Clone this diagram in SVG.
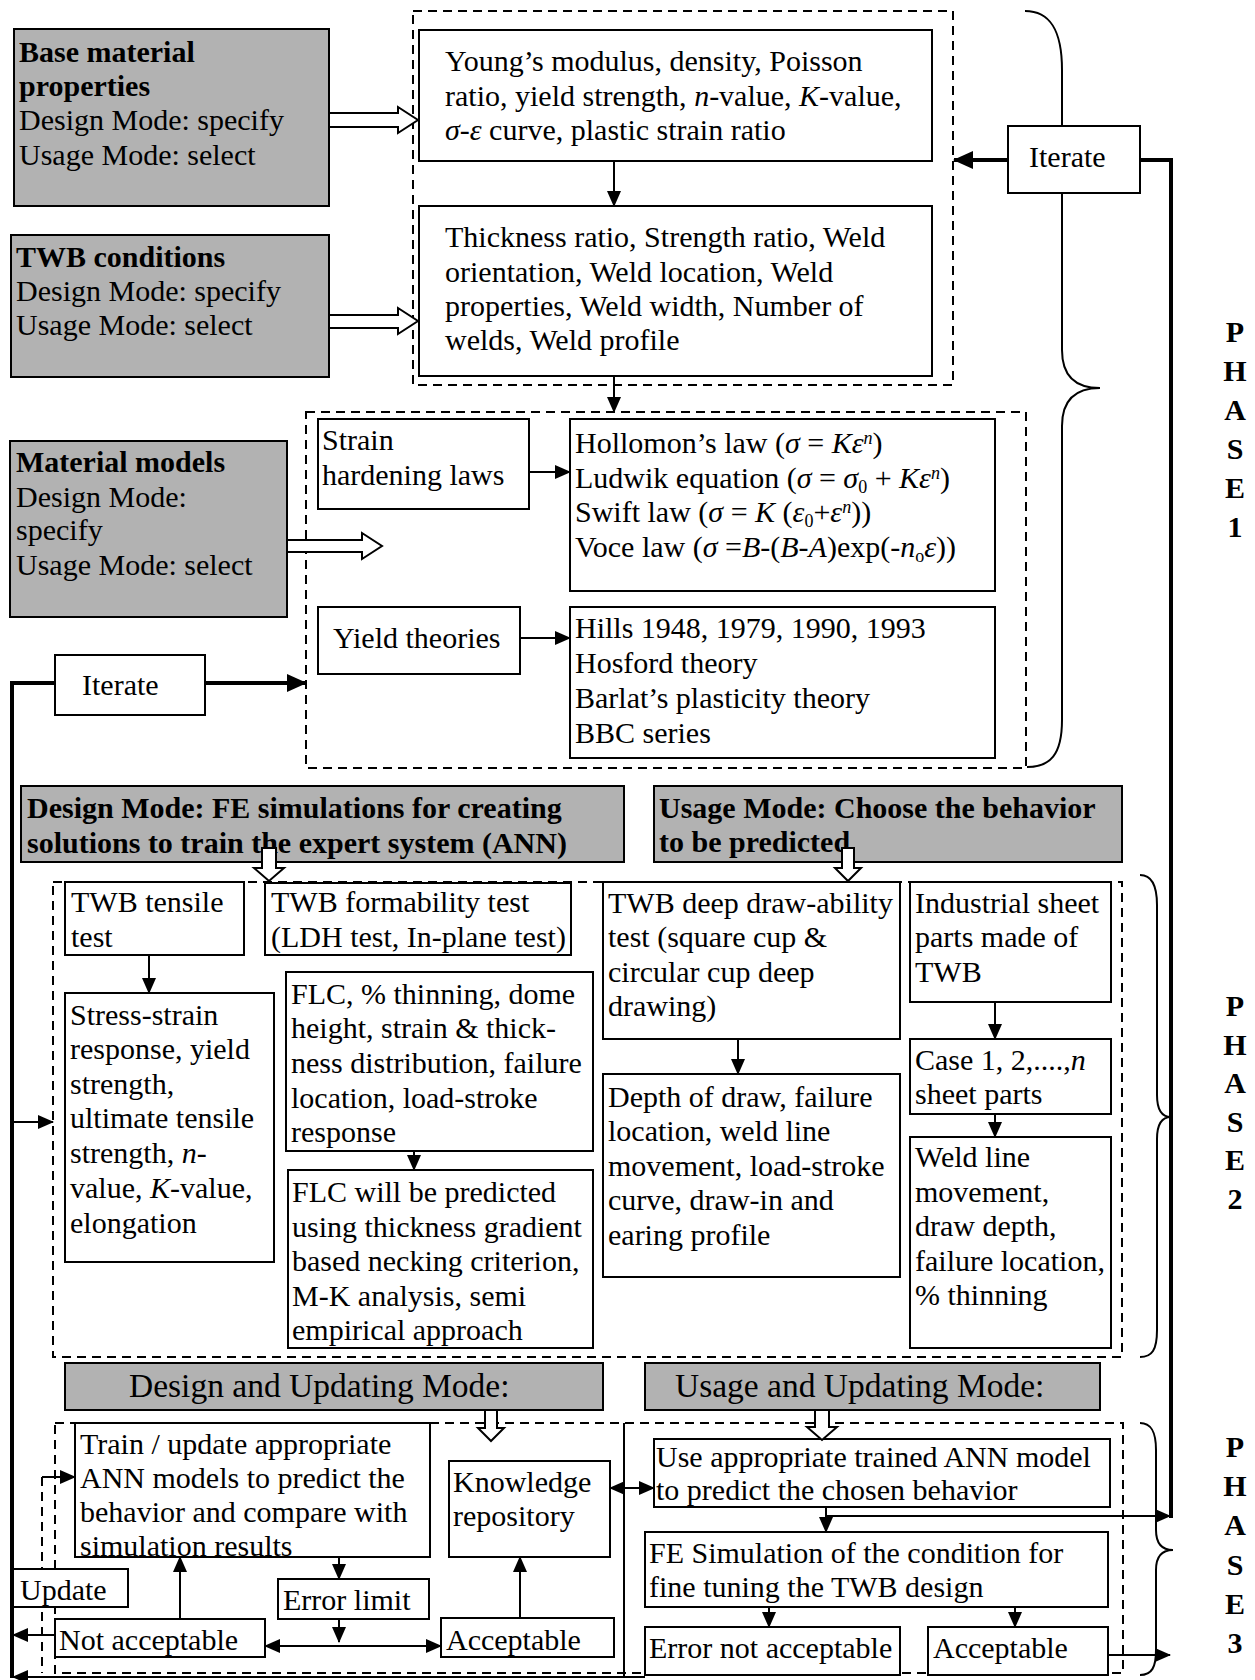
<svg xmlns="http://www.w3.org/2000/svg" width="1255" height="1680" viewBox="0 0 1255 1680">
<style>
.box{fill:#fff;stroke:#000;stroke-width:2}
.gray{fill:#b2b2b2;stroke:#000;stroke-width:2}
.dash{fill:none;stroke:#000;stroke-width:2;stroke-dasharray:9 6}
.ln{fill:none;stroke:#000;stroke-width:2}
.thk{fill:none;stroke:#000;stroke-width:4}
.hol{fill:#fff;stroke:#000;stroke-width:2;stroke-linejoin:miter}
.br{fill:none;stroke:#000;stroke-width:2}
text{font-family:"Liberation Serif","Times New Roman",serif;font-size:30px;fill:#000}
.b{font-weight:bold}
.i{font-style:italic}
.m{font-size:33.5px}
.s{font-size:18px}
.ph{font-weight:bold;text-anchor:middle}
</style>
<defs>
<marker id="ah" markerUnits="userSpaceOnUse" markerWidth="16" markerHeight="14" refX="15" refY="7" orient="auto-start-reverse"><path d="M0,0 L16,7 L0,14 z" fill="#000"/></marker>
<marker id="ahb" markerUnits="userSpaceOnUse" markerWidth="20" markerHeight="18" refX="19" refY="9" orient="auto-start-reverse"><path d="M0,0 L20,9 L0,18 z" fill="#000"/></marker>
</defs>

<g id="groups">
<rect class="dash" x="413" y="11" width="540" height="374"/>
<rect class="dash" x="306" y="412" width="720" height="356"/>
<rect class="dash" x="53" y="882" width="1069" height="475"/>
<rect class="dash" x="55" y="1423" width="1068" height="250"/>
</g>

<g id="braces">
<path class="br" d="M1025,11 C1050,11 1062,30 1062,70 L1062,350 C1062,375 1075,388 1100,388 C1075,388 1062,401 1062,426 L1062,720 C1062,755 1050,767 1027,767"/>
<path class="br" d="M1140,875 C1152,875 1157,885 1157,905 L1157,1095 C1157,1110 1162,1117 1171,1117 C1162,1117 1157,1124 1157,1139 L1157,1330 C1157,1350 1152,1357 1140,1357"/>
<path class="br" d="M1140,1423 C1152,1423 1156,1433 1156,1450 L1156,1530 C1156,1543 1162,1550 1173,1550 C1162,1550 1156,1557 1156,1570 L1156,1650 C1156,1667 1152,1675 1140,1675"/>
</g>

<g id="connectors">
<line class="ln" x1="614" y1="161" x2="614" y2="206" marker-end="url(#ah)"/>
<line class="ln" x1="614" y1="376" x2="614" y2="412" marker-end="url(#ah)"/>
<line class="ln" x1="529" y1="472" x2="570" y2="472" marker-end="url(#ah)"/>
<line class="ln" x1="520" y1="638" x2="570" y2="638" marker-end="url(#ah)"/>
<line class="thk" x1="1008" y1="160" x2="954" y2="160" marker-end="url(#ahb)"/>
<polyline class="thk" points="1140,160 1171,160 1171,1518"/>
<line class="ln" x1="826" y1="1507" x2="826" y2="1532" marker-end="url(#ah)"/>
<line class="ln" x1="826" y1="1516" x2="1170" y2="1516" marker-end="url(#ah)"/>
<line class="thk" x1="205" y1="683" x2="306" y2="683" marker-end="url(#ahb)"/>
<polyline class="thk" points="55,683 12,683 12,1678"/>
<line class="ln" x1="12" y1="1122" x2="53" y2="1122" marker-end="url(#ah)"/>
<line class="ln" x1="149" y1="955" x2="149" y2="993" marker-end="url(#ah)"/>
<line class="ln" x1="414" y1="1151" x2="414" y2="1170" marker-end="url(#ah)"/>
<line class="ln" x1="738" y1="1039" x2="738" y2="1074" marker-end="url(#ah)"/>
<line class="ln" x1="995" y1="1002" x2="995" y2="1039" marker-end="url(#ah)"/>
<line class="ln" x1="995" y1="1114" x2="995" y2="1137" marker-end="url(#ah)"/>
<line class="ln" x1="339" y1="1557" x2="339" y2="1579" marker-end="url(#ah)"/>
<line class="ln" x1="339" y1="1619" x2="339" y2="1642" marker-end="url(#ah)"/>
<line class="ln" x1="265" y1="1646" x2="441" y2="1646" marker-start="url(#ah)" marker-end="url(#ah)"/>
<line class="ln" x1="180" y1="1619" x2="180" y2="1557" marker-end="url(#ah)"/>
<line class="ln" x1="520" y1="1618" x2="520" y2="1557" marker-end="url(#ah)"/>
<line class="ln" x1="624" y1="1423" x2="624" y2="1677"/>
<line class="ln" x1="610" y1="1488" x2="654" y2="1488" marker-start="url(#ah)" marker-end="url(#ah)"/>
<line class="dash" x1="42" y1="1477" x2="42" y2="1673"/>
<line class="ln" x1="42" y1="1477" x2="75" y2="1477" marker-end="url(#ah)"/>
<line class="ln" x1="55" y1="1635" x2="13" y2="1635" marker-end="url(#ah)"/>
<line class="ln" x1="769" y1="1607" x2="769" y2="1627" marker-end="url(#ah)"/>
<line class="ln" x1="1015" y1="1607" x2="1015" y2="1627" marker-end="url(#ah)"/>
<line class="ln" x1="1108" y1="1655" x2="1170" y2="1655" marker-end="url(#ah)"/>
<line class="ln" x1="645" y1="1677" x2="13" y2="1677" marker-end="url(#ah)"/>
</g>

<g id="base-material">
<rect class="gray" x="14" y="29" width="315" height="177"/>
<text x="19" y="62" class="b">Base material</text>
<text x="19" y="96" class="b">properties</text>
<text x="19" y="130">Design Mode: specify</text>
<text x="19" y="165">Usage Mode: select</text>
</g>
<g id="twb-conditions">
<rect class="gray" x="11" y="235" width="318" height="142"/>
<text x="16" y="267" class="b">TWB conditions</text>
<text x="16" y="301">Design Mode: specify</text>
<text x="16" y="335">Usage Mode: select</text>
</g>
<g id="material-models">
<rect class="gray" x="10" y="441" width="277" height="176"/>
<text x="16" y="472" class="b">Material models</text>
<text x="16" y="507">Design Mode:</text>
<text x="16" y="540">specify</text>
<text x="16" y="575">Usage Mode: select</text>
</g>
<g id="youngs">
<rect class="box" x="419" y="30" width="513" height="131"/>
<text x="445" y="71">Young’s modulus, density, Poisson</text>
<text x="445" y="106">ratio, yield strength, <tspan class="i">n</tspan>-value, <tspan class="i">K</tspan>-value,</text>
<text x="445" y="140"><tspan class="i">σ-ε</tspan> curve, plastic strain ratio</text>
</g>
<g id="thickness">
<rect class="box" x="419" y="206" width="513" height="170"/>
<text x="445" y="247">Thickness ratio, Strength ratio, Weld</text>
<text x="445" y="282">orientation, Weld location, Weld</text>
<text x="445" y="316">properties, Weld width, Number of</text>
<text x="445" y="350">welds, Weld profile</text>
</g>
<g id="strain-hardening">
<rect class="box" x="318" y="419" width="211" height="90"/>
<text x="322" y="450">Strain</text>
<text x="322" y="485">hardening laws</text>
</g>
<g id="hollomon">
<rect class="box" x="570" y="419" width="425" height="172"/>
<text x="575" y="453">Hollomon’s law (<tspan class="i">σ</tspan> = <tspan class="i">Kε</tspan><tspan class="i s" dy="-9">n</tspan><tspan dy="9">)</tspan></text>
<text x="575" y="488">Ludwik equation (<tspan class="i">σ</tspan> = <tspan class="i">σ</tspan><tspan class="s" dy="5">0</tspan><tspan dy="-5"> + </tspan><tspan class="i">Kε</tspan><tspan class="i s" dy="-9">n</tspan><tspan dy="9">)</tspan></text>
<text x="575" y="522">Swift law (<tspan class="i">σ</tspan> = <tspan class="i">K</tspan> (<tspan class="i">ε</tspan><tspan class="s" dy="5">0</tspan><tspan dy="-5">+</tspan><tspan class="i">ε</tspan><tspan class="i s" dy="-9">n</tspan><tspan dy="9">))</tspan></text>
<text x="575" y="557">Voce law (<tspan class="i">σ</tspan> =<tspan class="i">B</tspan>-(<tspan class="i">B</tspan>-<tspan class="i">A</tspan>)exp(-<tspan class="i">n</tspan><tspan class="s" dy="5">o</tspan><tspan class="i" dy="-5">ε</tspan>))</text>
</g>
<g id="yield-theories">
<rect class="box" x="318" y="607" width="202" height="67"/>
<text x="333" y="648">Yield theories</text>
</g>
<g id="hills">
<rect class="box" x="570" y="607" width="425" height="151"/>
<text x="575" y="638">Hills 1948, 1979, 1990, 1993</text>
<text x="575" y="673">Hosford theory</text>
<text x="575" y="708">Barlat’s plasticity theory</text>
<text x="575" y="743">BBC series</text>
</g>
<g id="iterate-right">
<rect class="box" x="1008" y="126" width="132" height="67"/>
<text x="1029" y="167">Iterate</text>
</g>
<g id="iterate-left">
<rect class="box" x="55" y="655" width="150" height="60"/>
<text x="82" y="695">Iterate</text>
</g>
<g id="design-mode">
<rect class="gray" x="21" y="786" width="603" height="76"/>
<text x="27" y="818" class="b">Design Mode: FE simulations for creating</text>
<text x="27" y="853" class="b">solutions to train the expert system (ANN)</text>
</g>
<g id="usage-mode">
<rect class="gray" x="654" y="786" width="468" height="76"/>
<text x="659" y="818" class="b">Usage Mode: Choose the behavior</text>
<text x="659" y="852" class="b">to be predicted</text>
</g>
<g id="tensile">
<rect class="box" x="65" y="882" width="179" height="73"/>
<text x="71" y="912">TWB tensile</text>
<text x="71" y="947">test</text>
</g>
<g id="formability">
<rect class="box" x="265" y="883" width="306" height="72"/>
<text x="271" y="912">TWB formability test</text>
<text x="271" y="947">(LDH test, In-plane test)</text>
</g>
<g id="stress-strain">
<rect class="box" x="65" y="993" width="209" height="269"/>
<text x="70" y="1025">Stress-strain</text>
<text x="70" y="1059">response, yield</text>
<text x="70" y="1094">strength,</text>
<text x="70" y="1128">ultimate tensile</text>
<text x="70" y="1163">strength, <tspan class="i">n</tspan>-</text>
<text x="70" y="1198">value, <tspan class="i">K</tspan>-value,</text>
<text x="70" y="1233">elongation</text>
</g>
<g id="flc">
<rect class="box" x="286" y="972" width="307" height="179"/>
<text x="291" y="1004">FLC, % thinning, dome</text>
<text x="291" y="1038">height, strain &amp; thick-</text>
<text x="291" y="1073">ness distribution, failure</text>
<text x="291" y="1108">location, load-stroke</text>
<text x="291" y="1142">response</text>
</g>
<g id="flc-predicted">
<rect class="box" x="288" y="1170" width="305" height="178"/>
<text x="292" y="1202">FLC will be predicted</text>
<text x="292" y="1237">using thickness gradient</text>
<text x="292" y="1271">based necking criterion,</text>
<text x="292" y="1306">M-K analysis, semi</text>
<text x="292" y="1340">empirical approach</text>
</g>
<g id="deep-draw">
<rect class="box" x="603" y="882" width="297" height="157"/>
<text x="608" y="913">TWB deep draw-ability</text>
<text x="608" y="947">test (square cup &amp;</text>
<text x="608" y="982">circular cup deep</text>
<text x="608" y="1016">drawing)</text>
</g>
<g id="depth-of-draw">
<rect class="box" x="603" y="1074" width="297" height="203"/>
<text x="608" y="1107">Depth of draw, failure</text>
<text x="608" y="1141">location, weld line</text>
<text x="608" y="1176">movement, load-stroke</text>
<text x="608" y="1210">curve, draw-in and</text>
<text x="608" y="1245">earing profile</text>
</g>
<g id="industrial">
<rect class="box" x="910" y="882" width="201" height="120"/>
<text x="915" y="913">Industrial sheet</text>
<text x="915" y="947">parts made of</text>
<text x="915" y="982">TWB</text>
</g>
<g id="case">
<rect class="box" x="910" y="1039" width="201" height="75"/>
<text x="915" y="1070">Case 1, 2,....,<tspan class="i">n</tspan></text>
<text x="915" y="1104">sheet parts</text>
</g>
<g id="weld-line">
<rect class="box" x="910" y="1137" width="201" height="211"/>
<text x="915" y="1167">Weld line</text>
<text x="915" y="1202">movement,</text>
<text x="915" y="1236">draw depth,</text>
<text x="915" y="1271">failure location,</text>
<text x="915" y="1305">% thinning</text>
</g>
<g id="design-updating">
<rect class="gray" x="65" y="1363" width="538" height="47"/>
<text x="129" y="1397" class="m">Design and Updating Mode:</text>
</g>
<g id="usage-updating">
<rect class="gray" x="645" y="1363" width="455" height="47"/>
<text x="675" y="1397" class="m">Usage and Updating Mode:</text>
</g>
<g id="train">
<rect class="box" x="75" y="1423" width="355" height="134"/>
<text x="80" y="1454">Train / update appropriate</text>
<text x="80" y="1488">ANN models to predict the</text>
<text x="80" y="1522">behavior and compare with</text>
<text x="80" y="1556">simulation results</text>
</g>
<g id="knowledge">
<rect class="box" x="449" y="1461" width="161" height="96"/>
<text x="453" y="1492">Knowledge</text>
<text x="453" y="1526">repository</text>
</g>
<g id="update">
<rect class="box" x="13" y="1569" width="115" height="38"/>
<text x="20" y="1600">Update</text>
</g>
<g id="error-limit">
<rect class="box" x="278" y="1579" width="151" height="40"/>
<text x="283" y="1610">Error limit</text>
</g>
<g id="not-acceptable">
<rect class="box" x="55" y="1619" width="210" height="38"/>
<text x="59" y="1650">Not acceptable</text>
</g>
<g id="acceptable-left">
<rect class="box" x="441" y="1618" width="173" height="39"/>
<text x="446" y="1650">Acceptable</text>
</g>
<g id="use-ann">
<rect class="box" x="654" y="1439" width="456" height="68"/>
<text x="656" y="1467">Use appropriate trained ANN model</text>
<text x="656" y="1500">to predict the chosen behavior</text>
</g>
<g id="fe-simulation">
<rect class="box" x="645" y="1532" width="463" height="75"/>
<text x="649" y="1563">FE Simulation of the condition for</text>
<text x="649" y="1597">fine tuning the TWB design</text>
</g>
<g id="error-not-acceptable">
<rect class="box" x="645" y="1627" width="255" height="48"/>
<text x="649" y="1658">Error not acceptable</text>
</g>
<g id="acceptable-right">
<rect class="box" x="928" y="1627" width="180" height="48"/>
<text x="933" y="1658">Acceptable</text>
</g>

<g id="block-arrows">
<polygon class="hol" points="329,113 398,113 398,107 418,120 398,133 398,127 329,127"/>
<polygon class="hol" points="329,315 398,315 398,308 418,321 398,334 398,328 329,328"/>
<polygon class="hol" points="287,540 362,540 362,533 382,546 362,559 362,552 287,552"/>
<polygon class="hol" points="262,848 262,868 254,868 269,881 284,868 276,868 276,848"/>
<polygon class="hol" points="842,848 842,868 835,868 848,881 861,868 854,868 854,848"/>
<polygon class="hol" points="485,1410 485,1428 478,1428 491,1441 504,1428 497,1428 497,1410"/>
<polygon class="hol" points="815,1410 815,1427 807,1427 822,1440 837,1427 829,1427 829,1410"/>
</g>

<g id="phase-labels">
<text class="ph" x="1235" y="342">P</text>
<text class="ph" x="1235" y="381">H</text>
<text class="ph" x="1235" y="420">A</text>
<text class="ph" x="1235" y="459">S</text>
<text class="ph" x="1235" y="498">E</text>
<text class="ph" x="1235" y="537">1</text>
<text class="ph" x="1235" y="1016">P</text>
<text class="ph" x="1235" y="1055">H</text>
<text class="ph" x="1235" y="1093">A</text>
<text class="ph" x="1235" y="1132">S</text>
<text class="ph" x="1235" y="1170">E</text>
<text class="ph" x="1235" y="1209">2</text>
<text class="ph" x="1235" y="1457">P</text>
<text class="ph" x="1235" y="1496">H</text>
<text class="ph" x="1235" y="1535">A</text>
<text class="ph" x="1235" y="1575">S</text>
<text class="ph" x="1235" y="1614">E</text>
<text class="ph" x="1235" y="1653">3</text>
</g>
</svg>
